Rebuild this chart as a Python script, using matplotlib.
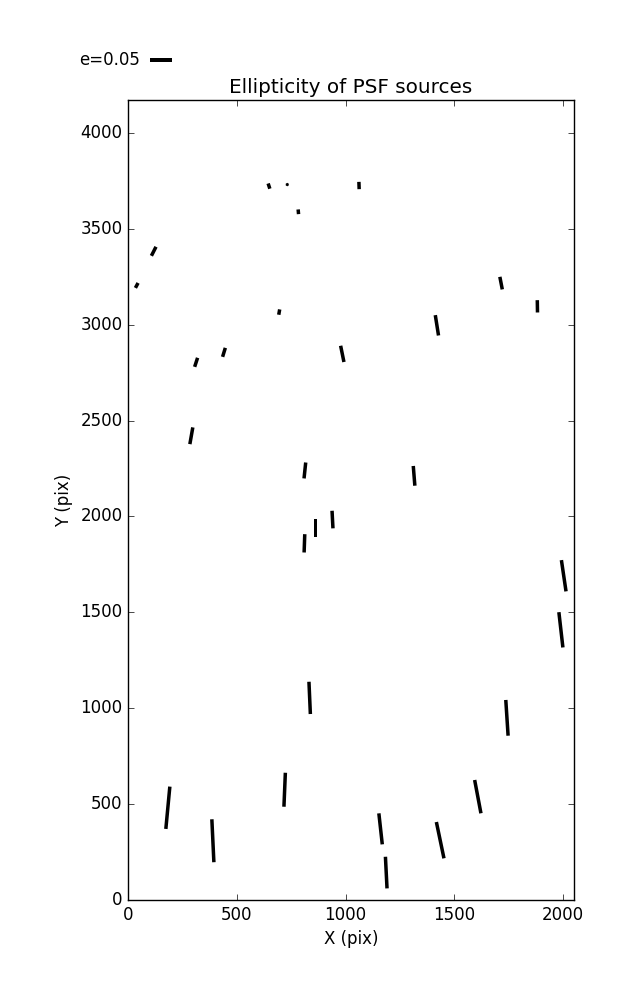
import numpy as np
import matplotlib
matplotlib.use('Agg')
import matplotlib.pyplot as plt

# source positions (pix)
x_pos = [648, 732, 1062, 783, 118, 40, 695, 313, 441, 985,
         1420, 1715, 1882, 291, 813, 1315, 811, 862, 940, 2003,
         1990, 835, 1742, 183, 390, 720, 1161, 1187, 1435, 1608]
y_pos = [3723, 3731, 3726, 3589, 3383, 3205, 3066, 2804, 2856, 2848,
         2997, 3217, 3096, 2421, 2240, 2212, 1860, 1940, 1984, 1691,
         1409, 1054, 950, 481, 309, 575, 371, 143, 312, 539]
# ellipticity and position angle (deg)
ellip = [0.0125, 0.0045, 0.0166, 0.0107, 0.0230, 0.0127, 0.0123, 0.0216, 0.0214, 0.0377,
         0.0468, 0.0291, 0.0280, 0.0386, 0.0364, 0.0450, 0.0416, 0.0393, 0.0400, 0.0718,
         0.0807, 0.0734, 0.0814, 0.0966, 0.0977, 0.0773, 0.0709, 0.0720, 0.0843, 0.0770]
theta = [108, 90, 92, 95, 63, 62, 80, 72, 73, 101.5,
         99, 101, 91, 80, 84, 94.6, 88, 90, 93, 98.4,
         96.5, 92.5, 93.7, 84.6, 92.7, 87.6, 96.3, 92.9, 101.8, 100.7]

key_e = 0.05

plt.style.use('classic')
plt.rcParams['font.family'] = ['DejaVu Sans']

x = np.array(x_pos)
y = np.array(y_pos)
e = np.array(ellip)
t = np.radians(theta)
u = e * np.cos(t)
v = e * np.sin(t)

fig = plt.figure(figsize=(6.37, 10), dpi=100, facecolor='white')
ax = fig.add_axes([0.201, 0.1, 0.7, 0.8])
q = ax.quiver(x, y, u, v, pivot='middle', headwidth=0, headlength=0,
              headaxislength=0, units='inches', width=0.035,
              scale_units='inches', scale=key_e / 0.22, color='black')
ax.quiverkey(q, 0.236, 0.94, key_e, 'e=0.05', coordinates='figure',
             labelpos='W', fontproperties={'size': 12})
ax.set_xlim(0, 2050)
ax.set_ylim(0, 4172)
ax.set_title('Ellipticity of PSF sources', fontsize=14.4)
ax.set_xlabel('X (pix)')
ax.set_ylabel('Y (pix)')

fig.savefig('out.png', dpi=100, facecolor='white')
